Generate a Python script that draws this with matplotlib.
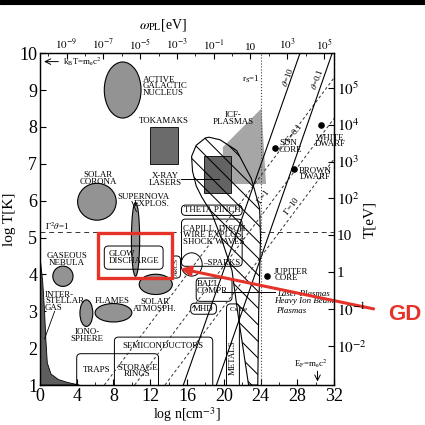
import matplotlib
matplotlib.use("Agg")
import matplotlib.pyplot as plt
from matplotlib.patches import Ellipse, Rectangle, Polygon, FancyBboxPatch
from matplotlib.lines import Line2D

plt.rcParams['font.family'] = 'serif'
plt.rcParams['font.serif'] = ['Liberation Serif', 'DejaVu Serif']
plt.rcParams['mathtext.fontset'] = 'stix'
plt.rcParams['hatch.linewidth'] = 0.75

# -----------------------------
# DATA  (x = log n [cm^-3], y = log T [K])
# -----------------------------
# filled ellipses
ell_n = [9.0, 6.2, 10.4, 2.5, 5.05, 8.0, 12.6]
ell_T = [9.0, 5.97, 4.95, 3.95, 2.95, 2.96, 3.73]
ell_w = [4.0, 4.2, 0.9, 2.2, 1.4, 4.0, 3.6]
ell_h = [1.52, 1.0, 2.0, 0.55, 0.72, 0.5, 0.55]

# filled rectangles: tokamaks, x-ray lasers  (n0, n1, T0, T1)
rect_n0 = [12.0, 17.9]
rect_n1 = [15.0, 20.8]
rect_T0 = [7.0, 6.2]
rect_T1 = [8.0, 7.2]
rect_col = ["#6b6b6b", "#636363"]

# ICF plasmas region
icf_n = [19.9, 19.9, 24.1, 24.6]
icf_T = [6.45, 7.45, 8.5, 6.45]

# hatched region
hatch_n = [16.5, 17.0, 18.0, 18.4, 19.6, 21.4, 23.0, 23.9, 24.0, 23.9, 23.8, 23.7,
           22.7, 22.1, 21.5, 20.9, 19.7, 18.7, 17.6, 17.0, 16.6]
hatch_T = [7.2, 7.5, 7.7, 7.72, 7.65, 7.36, 6.6, 5.8, 5.0, 4.0, 3.0, 1.0,
           1.0, 2.0, 3.0, 4.1, 5.0, 5.65, 6.1, 6.4, 6.8]

# interstellar gas strip
ism_n = [0.0, 0.3, 0.5, 0.65, 0.8, 1.2, 2.0, 3.0, 4.3, 0.0]
ism_T = [4.5, 3.8, 3.0, 2.2, 1.6, 1.3, 1.15, 1.07, 1.0, 1.0]

# open rounded boxes (n0, n1, T0, T1)
box_names = ["glow", "semi", "traps", "theta", "capill", "ball", "mhd", "metals", "arcs"]
box_n0 = [7.0, 8.1, 4.0, 15.4, 15.4, 17.0, 16.4, 20.3, 14.3]
box_n1 = [13.4, 18.8, 12.9, 22.0, 22.0, 20.9, 19.2, 21.7, 15.3]
box_T0 = [4.14, 0.9, 0.9, 5.6, 4.22, 3.27, 2.92, 0.9, 3.9]
box_T1 = [4.77, 2.3, 1.85, 5.88, 5.5, 3.9, 3.22, 3.2, 4.5]

# Gamma lines (dashed): endpoints
gam_labels = [r"$\Gamma$=0.1", r"$\Gamma$=1", r"$\Gamma$=10"]
gam_n = [(7.0, 32.0), (10.3, 32.0), (13.6, 32.0)]
gam_T = [(1.0, 9.33), (1.0, 8.23), (1.0, 7.13)]

# theta lines (solid)
th_labels = [r"$\theta$=10", r"$\theta$=0.1"]
th_n = [(15.6, 28.3), (19.2, 31.8)]
th_T = [(1.0, 10.0), (1.0, 10.0)]

r_s_n = 24.1
g2th_T = 5.15

# stars / planets
dot_names = ["SUN\nCORE", "WHITE\nDWARF", "BROWN\nDWARF", "JUPITER\nCORE"]
dot_n = [25.6, 30.6, 27.6, 24.7]
dot_T = [7.44, 8.06, 6.87, 3.95]

# top axis: plasma frequency
omega_labels = [r"$10^{-9}$", r"$10^{-7}$", r"$10^{-5}$", r"$10^{-3}$", r"$10^{-1}$",
                "10", r"$10^{3}$", r"$10^{5}$"]
omega_pos = [2.9, 6.9, 10.9, 14.9, 18.9, 22.9, 26.9, 30.9]
omega_minor = [0.9, 4.9, 8.9, 12.9, 16.9, 20.9, 24.9, 28.9]

# right axis: temperature in eV
tev_labels = [r"$10^{-2}$", r"$10^{-1}$", "1", "10", r"$10^{2}$", r"$10^{3}$",
              r"$10^{4}$", r"$10^{5}$"]
tev_pos = [2.06, 3.06, 4.06, 5.06, 6.06, 7.06, 8.06, 9.06]

RED = "#e5332a"
GRAY = "#939393"
FS = 6.4
LS = 0.78

fig = plt.figure(figsize=(4.25, 4.25), dpi=100)
ax = fig.add_axes([0.094, 0.094, 0.692, 0.781])
ax.set_xlim(0, 32)
ax.set_ylim(1, 10)

# -----------------------------
# FILLED SHAPES
# -----------------------------
for n, T, w, h in zip(ell_n, ell_T, ell_w, ell_h):
    ax.add_patch(Ellipse((n, T), w, h, facecolor=GRAY, edgecolor="black", lw=0.8, zorder=2))

for n0, n1, T0, T1, c in zip(rect_n0, rect_n1, rect_T0, rect_T1, rect_col):
    ax.add_patch(Rectangle((n0, T0), n1 - n0, T1 - T0, facecolor=c, edgecolor="black", lw=0.6, zorder=2))

ax.add_patch(Polygon(list(zip(icf_n, icf_T)), closed=True, facecolor="#a6a6a6",
                     edgecolor="none", zorder=1.9))
ax.add_patch(Polygon(list(zip(ism_n, ism_T)), closed=True, facecolor="#5e5e5e",
                     edgecolor="black", lw=0.6, zorder=2))
ax.add_patch(Polygon(list(zip(hatch_n, hatch_T)), closed=True, fill=False, hatch="\\\\",
                     edgecolor="black", lw=0.8, zorder=3))

# -----------------------------
# BOXES
# -----------------------------
for n0, n1, T0, T1 in zip(box_n0, box_n1, box_T0, box_T1):
    ax.add_patch(FancyBboxPatch((n0, T0), n1 - n0, T1 - T0,
                                boxstyle="round,pad=0,rounding_size=0.45",
                                mutation_aspect=0.25, fill=False, edgecolor="black",
                                lw=0.7, zorder=4))
ax.add_patch(Ellipse((16.5, 4.27), 2.3, 0.63, fill=False, edgecolor="black", lw=0.7, zorder=4))

# -----------------------------
# LINES
# -----------------------------
for (n0, n1), (T0, T1) in zip(gam_n, gam_T):
    ax.plot([n0, n1], [T0, T1], ls=(0, (3, 2.5)), color="#333333", lw=0.7, zorder=4)
for (n0, n1), (T0, T1) in zip(th_n, th_T):
    ax.plot([n0, n1], [T0, T1], color="black", lw=0.8, zorder=4)
ax.axvline(r_s_n, ls=":", color="#444444", lw=0.8, zorder=4)
ax.plot([0, 15.4], [g2th_T, g2th_T], ls=(0, (5, 4)), color="#333333", lw=0.7, zorder=4)
ax.plot([23.9, 32], [g2th_T, g2th_T], ls=(0, (5, 4)), color="#333333", lw=0.7, zorder=4)
ax.plot([15.3, 19.5], [6.6, 6.6], color="black", lw=0.7, zorder=4)
ax.plot([19.8, 25.6], [3.52, 3.52], color="black", lw=0.7, zorder=4)
ax.plot([1.6, 0.5], [3.0, 2.25], color="black", lw=0.6, zorder=4)
ax.plot([10.0, 10.5], [5.98, 5.7], color="black", lw=0.6, zorder=4)

ax.scatter(dot_n, dot_T, s=14, color="black", zorder=5)

# -----------------------------
# LABELS
# -----------------------------
def lab(x, y, s, ha="center", **kw):
    ax.text(x, y, s, ha=ha, va="center", fontsize=kw.pop("fontsize", FS),
            linespacing=LS, zorder=6, **kw)

lab(11.2, 9.1, "ACTIVE\nGALACTIC\nNUCLEUS", ha="left")
lab(13.5, 8.17, "TOKAMAKS")
lab(6.3, 6.6, "SOLAR\nCORONA")
lab(13.6, 6.58, "X-RAY\nLASERS")
lab(21.0, 8.22, "ICF-\nPLASMAS")
lab(11.3, 6.1, "SUPERNOVA")
lab(12.2, 5.9, "EXPLOS.")
lab(2.9, 4.4, "GASEOUS\nNEBULA")
lab(0.55, 3.27, "INTER-\nSTELLAR\nGAS", ha="left")
lab(7.9, 3.27, "FLAMES")
lab(12.5, 3.15, "SOLAR\nATMOSPH.")
lab(5.1, 2.35, "IONO-\nSPHERE")
lab(7.5, 4.45, "GLOW\nDISCHARGE", ha="left")
lab(13.4, 2.07, "SEMICONDUCTORS")
lab(6.2, 1.42, "TRAPS")
lab(10.6, 1.38, "STORAGE\nRINGS")
lab(18.7, 5.74, "THETA PINCH")
lab(15.6, 5.06, "CAPILL. DISCH.\nWIRE EXPLOS.\nSHOCK WAVES", ha="left")
lab(17.7, 4.3, "\u2013SPARKS", ha="left")
lab(17.1, 3.65, "BALL.\nCOMPR.", ha="left")
lab(17.8, 3.07, "MHD")
lab(21.0, 1.75, "METALS", rotation=90)
lab(21.6, 3.06, "Cs He", fontsize=5)
lab(14.8, 4.2, "ARCS", rotation=90, fontsize=5)
lab(26.0, 7.47, dot_names[0], ha="left")
lab(31.6, 7.62, dot_names[1])
lab(30.0, 6.72, dot_names[2])
lab(25.5, 3.98, dot_names[3], ha="left")
lab(28.7, 3.37, "Laser Plasmas\nHeavy Ion Beam", style="italic")
lab(25.7, 3.0, "Plasmas", ha="left", style="italic")
lab(0.6, 5.3, r"$\Gamma^2\theta$=1", ha="left")
lab(2.5, 9.77, r"k$_{\rm B}$T=m$_{\rm e}$c$^2$", ha="left")
ax.annotate("", xy=(0.15, 9.77), xytext=(2.3, 9.77),
            arrowprops=dict(arrowstyle="->", lw=0.7, color="black"), zorder=6)
lab(23.0, 9.3, r"r$_{\rm S}$=1")
lab(27.0, 9.35, th_labels[0], rotation=70)
lab(30.2, 9.3, th_labels[1], rotation=70)
lab(27.6, 7.85, gam_labels[0], rotation=53)
lab(24.3, 6.1, gam_labels[1], rotation=53)
lab(27.3, 5.85, gam_labels[2], rotation=53)
lab(29.5, 1.58, r"E$_{\rm F}$=m$_{\rm e}$c$^2$")
ax.annotate("", xy=(30.2, 1.02), xytext=(30.2, 1.45),
            arrowprops=dict(arrowstyle="->", lw=0.7, color="black"), zorder=6)

# -----------------------------
# AXES
# -----------------------------
ax.set_xticks(range(0, 33, 4))
ax.set_xticks(range(2, 33, 4), minor=True)
ax.set_yticks(range(1, 11))
ax.tick_params(direction="in", labelsize=13, length=4, width=0.8, pad=2)
ax.tick_params(which="minor", direction="in", length=2.5)
ax.set_xlabel(r"log n[cm$^{-3}$]", fontsize=10, labelpad=0)
ax.set_ylabel("log T[K]", fontsize=11)
ax.yaxis.set_label_coords(-0.082, 0.5)
for s in ax.spines.values():
    s.set_linewidth(0.9)

axt = ax.twiny()
axt.set_xlim(0, 32)
axt.set_xticks(omega_pos)
axt.set_xticklabels(omega_labels)
axt.set_xticks(omega_minor, minor=True)
axt.tick_params(direction="in", labelsize=8, length=4, pad=1)
axt.tick_params(which="minor", direction="in", length=2.5)

axr = ax.twinx()
axr.set_ylim(1, 10)
axr.set_yticks(tev_pos)
axr.set_yticklabels(tev_labels)
axr.tick_params(direction="in", labelsize=11, length=4, pad=2)
axr.set_ylabel("T[eV]", fontsize=11)
axr.yaxis.set_label_coords(1.10, 0.5)

fig.text(163 / 425, 1 - 25 / 425, r"$\omega_{\rm PL}$[eV]", ha="center", va="center", fontsize=10)

# -----------------------------
# RED ANNOTATION
# -----------------------------
ax.add_patch(Rectangle((6.3, 3.9), 8.1, 1.22, fill=False, edgecolor=RED, lw=2.4,
                       zorder=7, clip_on=False))
ax.annotate("", xy=(15.0, 4.17), xytext=(36.6, 3.05),
            arrowprops=dict(arrowstyle="-|>", color=RED, lw=2.2, mutation_scale=14),
            annotation_clip=False, zorder=7)
fig.text(388 / 425, 1 - 315 / 425, "GD", color=RED, fontsize=16, fontweight="bold",
         family="Liberation Sans", ha="left", va="center")

# top border
fig.add_artist(Rectangle((0, 1 - 3 / 425), 1, 3 / 425, transform=fig.transFigure,
                         color="black"))
fig.add_artist(Line2D([0, 1], [1 - 4.3 / 425] * 2, transform=fig.transFigure,
                      color="black", lw=0.8))

fig.savefig("out.png", dpi=100)
